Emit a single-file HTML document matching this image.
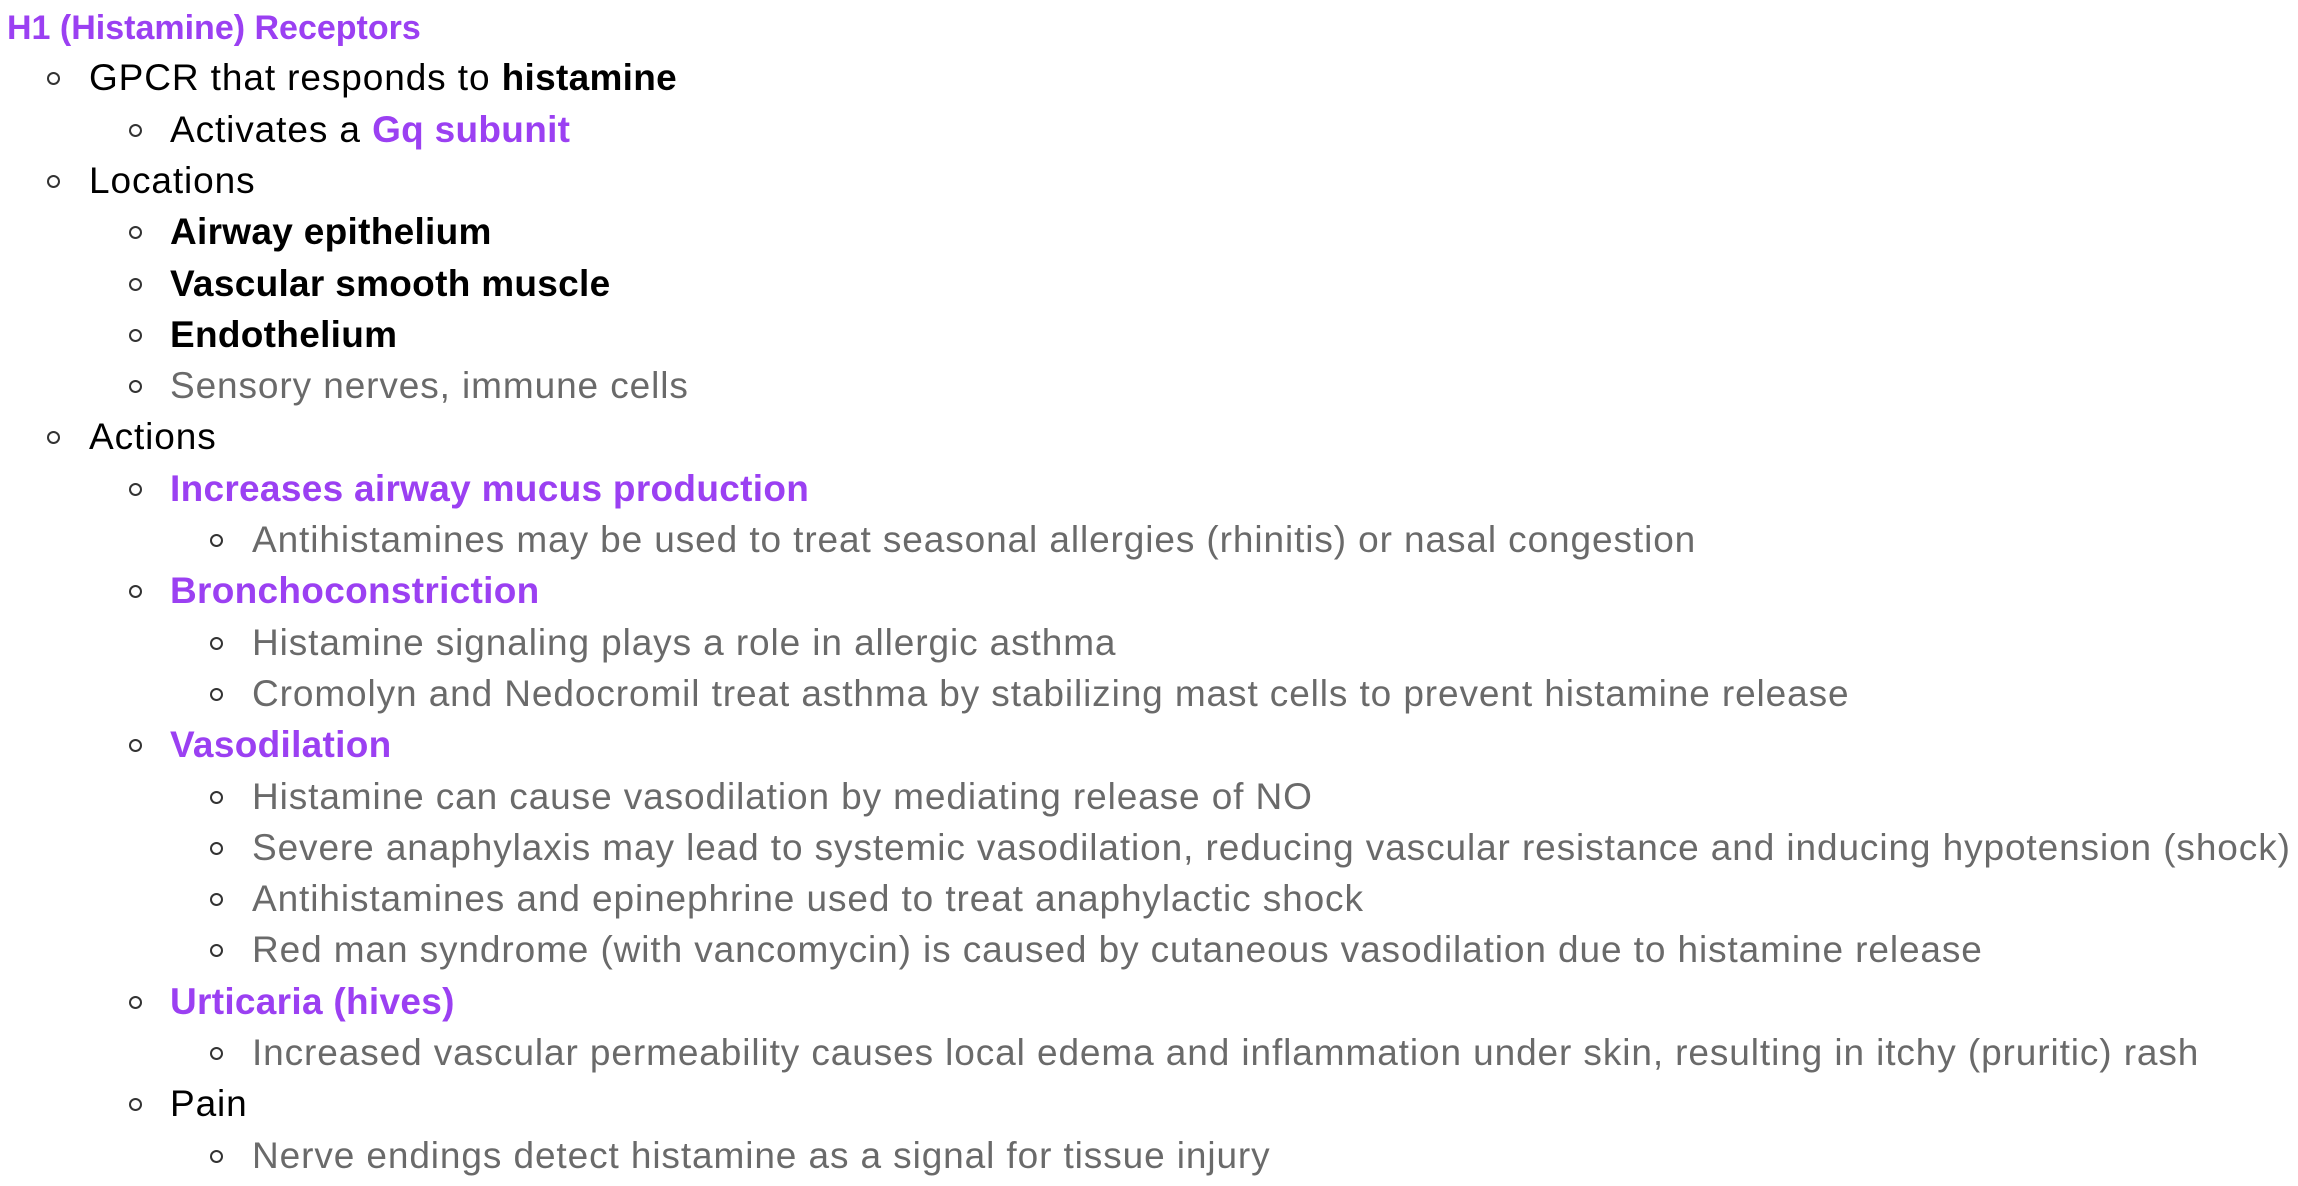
<!DOCTYPE html>
<html><head><meta charset="utf-8"><style>
html,body{margin:0;padding:0;background:#fff;}
body{width:2298px;height:1186px;position:relative;overflow:hidden;font-family:"Liberation Sans",sans-serif;font-size:37px;letter-spacing:0.9px;}
.l{position:absolute;left:0;height:51px;line-height:51px;white-space:nowrap;}
.b{position:absolute;width:9px;height:9px;border:2px solid #333;border-radius:50%;top:19px;}
.p{color:#9b40f2;font-weight:bold;letter-spacing:0.3px;}
.t{font-size:34px;letter-spacing:0;}
.k{color:#000;}
.g{color:#6a6a6a;}
.bo{font-weight:bold;letter-spacing:0.3px;}
b{letter-spacing:0.3px;}
</style></head><body>
<div id="root"></div>
<script>
const lines=[
 [0,'<span class="p t">H1 (Histamine) Receptors</span>'],
 [1,'<span class="k">GPCR that responds to <b>histamine</b></span>'],
 [2,'<span class="k">Activates a </span><span class="p">Gq subunit</span>'],
 [1,'<span class="k">Locations</span>'],
 [2,'<span class="k bo">Airway epithelium</span>'],
 [2,'<span class="k bo">Vascular smooth muscle</span>'],
 [2,'<span class="k bo">Endothelium</span>'],
 [2,'<span class="g">Sensory nerves, immune cells</span>'],
 [1,'<span class="k">Actions</span>'],
 [2,'<span class="p">Increases airway mucus production</span>'],
 [3,'<span class="g">Antihistamines may be used to treat seasonal allergies (rhinitis) or nasal congestion</span>'],
 [2,'<span class="p">Bronchoconstriction</span>'],
 [3,'<span class="g">Histamine signaling plays a role in allergic asthma</span>'],
 [3,'<span class="g">Cromolyn and Nedocromil treat asthma by stabilizing mast cells to prevent histamine release</span>'],
 [2,'<span class="p">Vasodilation</span>'],
 [3,'<span class="g">Histamine can cause vasodilation by mediating release of NO</span>'],
 [3,'<span class="g">Severe anaphylaxis may lead to systemic vasodilation, reducing vascular resistance and inducing hypotension (shock)</span>'],
 [3,'<span class="g">Antihistamines and epinephrine used to treat anaphylactic shock</span>'],
 [3,'<span class="g">Red man syndrome (with vancomycin) is caused by cutaneous vasodilation due to histamine release</span>'],
 [2,'<span class="p">Urticaria (hives)</span>'],
 [3,'<span class="g">Increased vascular permeability causes local edema and inflammation under skin, resulting in itchy (pruritic) rash</span>'],
 [2,'<span class="k">Pain</span>'],
 [3,'<span class="g">Nerve endings detect histamine as a signal for tissue injury</span>']
];
const textX=[7,89,170,252];
const bulletX=[0,47,129,210];
const root=document.getElementById('root');
lines.forEach((ln,i)=>{
  const d=document.createElement('div');
  d.className='l';
  
  
  d.style.top=(1+i*51.3)+'px';
  d.style.left=textX[ln[0]]+'px';
  d.innerHTML=ln[1];
  root.appendChild(d);
  if(ln[0]>0){
    const b=document.createElement('div');
    b.className='b';
    
    
    b.style.top=(1+i*51.3+20)+'px';
    b.style.left=bulletX[ln[0]]+'px';
    root.appendChild(b);
  }
});
</script>
</body></html>
